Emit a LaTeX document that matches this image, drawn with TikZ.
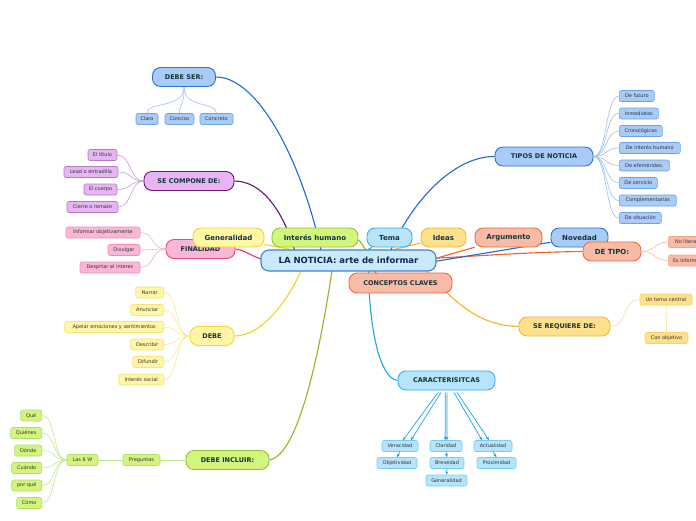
\documentclass[tikz,border=0pt]{standalone}
\usepackage{fontspec}
\setmainfont{DejaVu Sans}
\usetikzlibrary{arrows.meta,calc}
\pgfdeclarelayer{bg}
\pgfsetlayers{bg,main}
\definecolor{bluF}{HTML}{A9CBF7}\definecolor{bluD}{HTML}{2D6FD2}\definecolor{bluS}{HTML}{6FA0E8}\definecolor{bluL}{HTML}{1E6AD6}\definecolor{bluC}{HTML}{9DBFF0}
\definecolor{cyaF}{HTML}{B6E5FB}\definecolor{cyaD}{HTML}{36ADE6}\definecolor{cyaS}{HTML}{7ACBF0}\definecolor{cyaL}{HTML}{1AA3E8}
\definecolor{cenF}{HTML}{C8EAFB}\definecolor{cenD}{HTML}{3D86C6}
\definecolor{oraF}{HTML}{FFE08C}\definecolor{oraD}{HTML}{F5B72F}\definecolor{oraS}{HTML}{FFD06A}\definecolor{oraL}{HTML}{F5B320}\definecolor{oraC}{HTML}{FFDC8A}
\definecolor{salF}{HTML}{F8BBA6}\definecolor{salD}{HTML}{EE6A3B}\definecolor{salS}{HTML}{F7A58A}\definecolor{salL}{HTML}{F0602A}\definecolor{salC}{HTML}{F8B8A0}
\definecolor{grnF}{HTML}{D2F57E}\definecolor{grnD}{HTML}{96C232}\definecolor{grnS}{HTML}{B5DC6A}\definecolor{grnL}{HTML}{8DB820}\definecolor{grnC}{HTML}{C4E68A}
\definecolor{yelF}{HTML}{FFF6A6}\definecolor{yelD}{HTML}{F1D635}\definecolor{yelS}{HTML}{F5E577}\definecolor{yelL}{HTML}{EFD420}\definecolor{yelC}{HTML}{F7EA95}
\definecolor{pnkF}{HTML}{F9B6D6}\definecolor{pnkD}{HTML}{E64B8A}\definecolor{pnkS}{HTML}{F28DB9}\definecolor{pnkL}{HTML}{E8337A}\definecolor{pnkC}{HTML}{F7A8CB}
\definecolor{purF}{HTML}{E7B5F4}\definecolor{purD}{HTML}{6A1B6E}\definecolor{purS}{HTML}{B57DC2}\definecolor{purL}{HTML}{5E1A6A}\definecolor{purC}{HTML}{C99AD2}
\definecolor{tcol}{HTML}{16323A}\definecolor{scol}{HTML}{333333}\definecolor{ccol}{HTML}{0E2A50}
\tikzset{
  topic/.style={rounded corners=8pt, line width=0.9pt, minimum height=19pt, inner sep=1pt, font=\bfseries\fontsize{6.5}{7}\selectfont, text=tcol},
  sub/.style={rounded corners=2pt, line width=0.6pt, minimum height=11pt, inner sep=1pt, font=\fontsize{5}{6}\selectfont, text=scol},
  tblu/.style={topic, fill=bluF, draw=bluD}, sblu/.style={sub, fill=bluF, draw=bluS},
  tcya/.style={topic, fill=cyaF, draw=cyaD}, scya/.style={sub, fill=cyaF, draw=cyaS},
  tora/.style={topic, fill=oraF, draw=oraD}, sora/.style={sub, fill=oraF, draw=oraS},
  tsal/.style={topic, fill=salF, draw=salD}, ssal/.style={sub, fill=salF, draw=salS},
  tgrn/.style={topic, fill=grnF, draw=grnD}, sgrn/.style={sub, fill=grnF, draw=grnS},
  tyel/.style={topic, fill=yelF, draw=yelD}, syel/.style={sub, fill=yelF, draw=yelS},
  tpnk/.style={topic, fill=pnkF, draw=pnkD}, spnk/.style={sub, fill=pnkF, draw=pnkS},
  tpur/.style={topic, fill=purF, draw=purD}, spur/.style={sub, fill=purF, draw=purS},
  bigfont/.style={font=\bfseries\fontsize{7}{8}\selectfont},
  mainline/.style={line width=1.1pt},
  childline/.style={line width=0.6pt},
  arr/.style={line width=0.7pt, color=cyaL, -{Stealth[length=3.5pt,width=3pt]}},
}
\begin{document}
\begin{tikzpicture}[x=1pt,y=-1pt]
\useasboundingbox (0,0) rectangle (696,520);
% DEBE SER
\node[tblu,minimum width=63pt] (ds) at (184,77) {DEBE SER:};
\node[sblu,minimum width=22pt] (claro) at (147,119) {Claro};
\node[sblu,minimum width=29pt] (conciso) at (179.5,119) {Conciso};
\node[sblu,minimum width=33pt] (concreto) at (216.5,119) {Concreto};
% SE COMPONE DE
\node[tpur,minimum width=90pt] (scd) at (189,181) {SE COMPONE DE:};
\node[spur,minimum width=29pt] (titulo) at (102.5,155) {El título};
\node[spur,minimum width=54pt] (lead) at (91,172) {Lead o entradilla};
\node[spur,minimum width=33pt] (cuerpo) at (100.5,189.5) {El cuerpo};
\node[spur,minimum width=51pt] (cierre) at (92.5,207) {Cierre o remate};
% FINALIDAD
\node[tpnk,minimum width=69pt] (fin) at (200.5,249) {FINALIDAD};
\node[spnk,minimum width=74pt] (inf) at (103,232.5) {Informar objetivamente};
\node[spnk,minimum width=32pt] (div) at (124,250) {Divulgar};
\node[spnk,minimum width=60pt] (desp) at (110,267.5) {Desprtar el interes};
% top row
\node[tyel,bigfont,minimum width=71pt] (gen) at (228.5,237.5) {Generalidad};
\node[tgrn,bigfont,minimum width=86pt] (ih) at (315,237.5) {Interés humano};
\node[tcya,bigfont,minimum width=45pt] (tema) at (389.5,237.5) {Tema};
\node[tora,bigfont,minimum width=45pt] (ideas) at (443.5,237.5) {Ideas};
\node[tsal,bigfont,minimum width=67pt] (arg) at (508.5,237.5) {Argumento};
\node[tblu,bigfont,minimum width=57pt] (nov) at (579.5,237.5) {Novedad};
% central
\node[rounded corners=8pt, line width=1.1pt, fill=cenF, draw=cenD, minimum width=175pt, minimum height=21pt, inner sep=1pt, font=\bfseries\fontsize{8.5}{10}\selectfont, text=ccol] (cen) at (348.5,260.5) {LA NOTICIA: arte de informar};
\node[tsal,minimum width=103pt,minimum height=20pt] (conc) at (400.5,283) {CONCEPTOS CLAVES};
% DE TIPO
\node[tsal,bigfont,minimum width=58pt] (detipo) at (612,251.5) {DE TIPO:};
\node[ssal,minimum width=44pt,anchor=west] (nolit) at (668,242) {No literarias};
\node[ssal,minimum width=48pt,anchor=west] (esinf) at (668,260.5) {Es informativas};
% SE REQUIERE DE
\node[tora,minimum width=91pt] (req) at (564.5,326.5) {SE REQUIERE DE:};
\node[sora,minimum width=52pt] (tcen) at (666,299.5) {Un tema central};
\node[sora,minimum width=43pt] (cobj) at (666.5,338) {Con objetivo};
% CARACTERISITCAS
\node[tcya,minimum width=97pt] (car) at (446.5,380.5) {CARACTERISITCAS};
\node[scya,minimum width=36pt] (ver) at (400,446) {Veracidad};
\node[scya,minimum width=32pt] (cla) at (446,446) {Claridad};
\node[scya,minimum width=38pt] (act) at (493,446) {Actualidad};
\node[scya,minimum width=40pt] (obj) at (397,463) {Objetividad};
\node[scya,minimum width=34pt] (bre) at (447,463) {Brevedad};
\node[scya,minimum width=39pt] (prox) at (496.5,463) {Proximidad};
\node[scya,minimum width=41pt] (gen2) at (446.5,480.5) {Generalidad};
% TIPOS DE NOTICIA
\node[tblu,minimum width=98pt] (tipos) at (544,156.5) {TIPOS DE NOTICIA};
\node[sblu,minimum width=35pt,anchor=west] (t1) at (619,96) {De futuro};
\node[sblu,minimum width=39pt,anchor=west] (t2) at (619,113.5) {Inmediatas};
\node[sblu,minimum width=43pt,anchor=west] (t3) at (619,131) {Cronológicas};
\node[sblu,minimum width=61pt,anchor=west] (t4) at (619,148) {De interés humano};
\node[sblu,minimum width=50pt,anchor=west] (t5) at (619,165.5) {De efemérides.};
\node[sblu,minimum width=38pt,anchor=west] (t6) at (619,183) {De servicio};
\node[sblu,minimum width=57pt,anchor=west] (t7) at (619,200.5) {Complementarias};
\node[sblu,minimum width=42pt,anchor=west] (t8) at (619,218) {De situación};
% DEBE
\node[tyel,minimum width=44pt] (debe) at (212,336) {DEBE};
\node[syel,minimum width=28pt,anchor=east] (d1) at (164,292.5) {Narrar};
\node[syel,minimum width=33pt,anchor=east] (d2) at (164,310) {Anunciar};
\node[syel,minimum width=99pt,anchor=east] (d3) at (164,327) {Apelar emociones y sentimientos};
\node[syel,minimum width=33pt,anchor=east] (d4) at (164,344.5) {Describir};
\node[syel,minimum width=31pt,anchor=east] (d5) at (164,362) {Difundir};
\node[syel,minimum width=45pt,anchor=east] (d6) at (164,379.5) {Interés social};
% DEBE INCLUIR
\node[tgrn,minimum width=83pt] (di) at (227.5,460) {DEBE INCLUIR:};
\node[sgrn,minimum width=37pt] (preg) at (141.5,460) {Preguntas};
\node[sgrn,minimum width=31pt] (w6) at (82.5,460) {Las 6 W};
\node[sgrn,minimum width=21pt,anchor=east] (w1) at (42,415.5) {Qué};
\node[sgrn,minimum width=31pt,anchor=east] (w2) at (42,433) {Quiénes};
\node[sgrn,minimum width=27pt,anchor=east] (w3) at (42,450.5) {Dónde};
\node[sgrn,minimum width=30pt,anchor=east] (w4) at (42,468) {Cuándo};
\node[sgrn,minimum width=30pt,anchor=east] (w5) at (42,485.5) {por qué};
\node[sgrn,minimum width=25pt,anchor=east] (w7) at (42,503) {Cómo};

\begin{pgfonlayer}{bg}
% main connectors
\draw[mainline,bluL] (ds.east) .. controls (258,77) and (302,160) .. ($(cen)+(-26,-4)$);
\draw[mainline,purL] (scd.east) .. controls (262,181) and (285,212) .. ($(cen)+(-52,-3)$);
\draw[mainline,pnkL] (fin.east) .. controls (248,251) and (252,258) .. ($(cen)+(-80,0)$);
\draw[mainline,yelL] (debe.east) .. controls (262,336) and (290,300) .. ($(cen)+(-43,0)$);
\draw[mainline,grnL] (di.east) .. controls (300,455) and (322,340) .. ($(cen)+(-15,0)$);
\draw[mainline,cyaL] (car.west) .. controls (378,378) and (368,320) .. ($(cen)+(20,0)$);
\draw[mainline,oraL] (req.west) .. controls (478,326) and (450,300) .. ($(cen)+(70,0)$);
\draw[mainline,bluL] (tipos.west) .. controls (455,156) and (410,200) .. ($(cen)+(38,0)$);
\draw[mainline,salL] (detipo.west) .. controls (530,252) and (480,256) .. ($(cen)+(80,-2)$);
\draw[mainline,salL] (arg) -- ($(cen)+(80,0)$);
\draw[mainline,bluL] (nov) -- ($(cen)+(80,2)$);
\draw[mainline,yelL] (gen) -- (cen);
\draw[mainline,grnL] (ih) .. controls (360,240) and (365,250) .. (cen);
\draw[mainline,cyaL] (tema) -- (cen);
\draw[mainline,oraL] (ideas) -- (cen);
\draw[mainline,salL] (conc) -- (cen);
% DEBE SER children
\foreach \c in {claro,conciso,concreto}
  \draw[childline,bluC] (ds.south) .. controls +(0,22) and +(0,-12) .. (\c.north);
% SE COMPONE children
\foreach \c in {titulo,lead,cuerpo,cierre}
  \draw[childline,purC] (scd.west) .. controls +(-14,0) and +(14,0) .. (\c.east);
% FINALIDAD children
\foreach \c in {inf,div,desp}
  \draw[childline,pnkC] (fin.west) .. controls +(-14,0) and +(14,0) .. (\c.east);
% DEBE children
\foreach \c in {d1,d2,d3,d4,d5,d6}
  \draw[childline,yelC] (debe.west) .. controls +(-14,0) and +(14,0) .. (\c.east);
% DEBE INCLUIR
\draw[childline,grnC] (di.west) -- (preg.east);
\draw[childline,grnC] (preg.west) -- (w6.east);
\foreach \c in {w1,w2,w3,w4,w5,w7}
  \draw[childline,grnC] (w6.west) .. controls +(-14,0) and +(14,0) .. (\c.east);
% TIPOS children
\foreach \c in {t1,t2,t3,t4,t5,t6,t7,t8}
  \draw[childline,bluC] (tipos.east) .. controls +(14,0) and +(-14,0) .. (\c.west);
% DE TIPO children
\foreach \c in {nolit,esinf}
  \draw[childline,salC] (detipo.east) .. controls +(14,0) and +(-14,0) .. (\c.west);
% SE REQUIERE
\draw[childline,oraC] (req.east) .. controls +(18,0) and +(-18,0) .. (tcen.west);
\draw[childline,oraC] (tcen.south) -- (cobj.north);
\end{pgfonlayer}
% CARACTERISITCAS arrows
\draw[arr] ($(car.south)+(-8.5,2)$) -- ($(ver.north)+(3,0)$);
\draw[arr] ($(car.south)+(-5.5,2)$) -- ($(ver.north)+(11,0)$);
\draw[arr] ($(car.south)+(-1.2,2)$) -- ($(cla.north)+(-0.8,0)$);
\draw[arr] ($(car.south)+(0.6,2)$) -- ($(cla.north)+(1,0)$);
\draw[arr] ($(car.south)+(7.5,2)$) -- ($(act.north)+(-11,0)$);
\draw[arr] ($(car.south)+(10.5,2)$) -- ($(act.north)+(-4,0)$);
\draw[arr] (ver.south) -- (obj.north);
\draw[arr] (cla.south) -- (bre.north);
\draw[arr] (bre.south) -- (gen2.north);
\draw[arr] (act.south) -- (prox.north);
\end{tikzpicture}
\end{document}
